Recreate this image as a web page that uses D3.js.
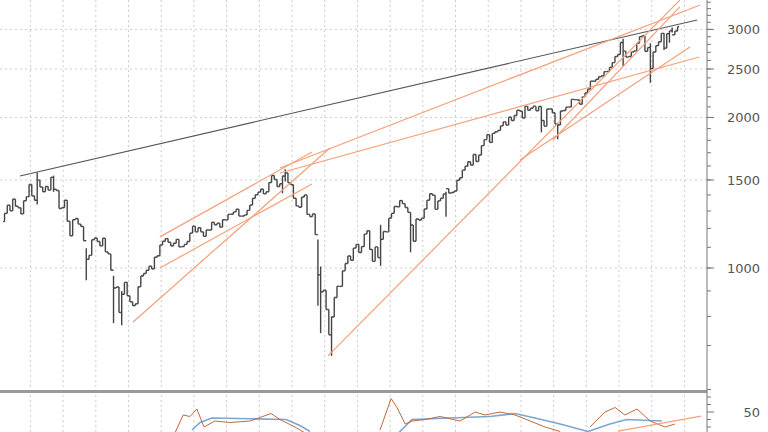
<!DOCTYPE html>
<html><head><meta charset="utf-8">
<script src="https://cdn.jsdelivr.net/npm/d3@7"></script>
<style>body{margin:0;background:#fff}svg{display:block}</style>
</head><body><svg id="chart" width="768" height="432"></svg>
<script>
// monthly closes, Mar 1999 .. Oct 2019
const closes = [
  1286,1335,1302,1373,1329,1320,1283,1363,1389,1469,
  1394,1366,1499,1452,1421,1455,1431,1518,1437,1429,1315,1320,
  1366,1240,1160,1249,1256,1224,1211,1134,1041,1060,1139,1148,
  1130,1107,1147,1077,1067,990,912,916,815,886,936,880,
  856,841,848,917,964,975,990,1008,996,1051,1058,1112,
  1131,1145,1126,1107,1121,1141,1102,1104,1115,1130,1174,1212,
  1181,1204,1181,1157,1191,1191,1234,1220,1229,1207,1249,1248,
  1280,1281,1295,1311,1270,1270,1277,1304,1336,1378,1401,1418,
  1438,1407,1421,1482,1531,1503,1455,1474,1527,1549,1481,1468,
  1379,1331,1323,1386,1400,1280,1267,1283,1166,969,896,903,
  826,735,798,873,919,919,987,1021,1057,1036,1096,1115,
  1074,1104,1169,1187,1089,1031,1102,1049,1141,1183,1181,1258,
  1286,1327,1326,1364,1345,1321,1292,1219,1131,1253,1247,1258,
  1312,1366,1408,1398,1310,1362,1379,1406,1441,1412,1416,1426,
  1498,1515,1569,1598,1631,1606,1686,1633,1682,1757,1806,1848,
  1783,1859,1872,1884,1924,1960,1931,2003,1972,2018,2068,2059,
  1995,2105,2068,2086,2107,2063,2104,1972,1920,2079,2080,2044,
  1940,1932,2060,2065,2097,2099,2174,2171,2168,2126,2199,2239,
  2279,2364,2363,2384,2412,2423,2470,2472,2519,2575,2648,2674,
  2824,2714,2641,2648,2705,2718,2816,2902,2914,2712,2760,2507,
  2704,2784,2834,2946,2752,2942,2980,2926,2977,3038
];
const startYear = 1999 + 2 / 12;
const firstOpen = 1238;
// intramonth extremes [monthIndex, high, low]
const extremes = [
  [12,1553,1340],[18,1530,1420],[30,1095,945],[40,965,776],[43,900,768],
  [102,1527,1410],[103,1576,1490],[115,1140,840],[116,1007,741],[120,800,667],
  [138,1220,1010],[149,1292,1075],[162,1420,1266],[197,2103,1867],[203,1950,1810],
  [227,2873,2533],[237,2815,2346],[242,2950,2729],[244,2978,2822],[245,3027,2958]
];

// trendlines [year0, price0, year1, price1]
const blackLine = [1999.68,1528,2020.39,3133];
const orangeLines = [
  [2003.96,1154,2008.61,1706],
  [2003.96,1000,2008.61,1472],
  [2003.14,780,2009.16,1738],
  [2007.63,1585,2020.48,3357],
  [2007.63,1549,2020.45,2642],
  [2009.10,667,2019.86,3433],
  [2014.97,1644,2020.17,2768],
  [2015.98,1803,2019.86,3327]
];

// lower indicator panel
const oscA = [[2004.42,36],[2004.67,48],[2004.88,47],[2005.09,52],[2005.31,40],[2005.64,44],[2006.10,43],
  [2006.72,44],[2007.36,49],[2007.63,45],[2008.09,40],[2008.40,36]];
const oscB = [[2010.69,38],[2011.03,59],[2011.21,53],[2011.46,42],[2011.67,44],[2012.07,45],[2012.53,47],
  [2013.14,44],[2013.60,50],[2013.90,48],[2014.36,50],[2014.82,48],[2015.28,44],[2015.74,40],[2016.20,37]];
const oscC = [[2017.11,40],[2017.57,50],[2017.88,53],[2018.18,48],[2018.55,52],[2018.95,44],[2019.41,40],[2019.71,42]];
const avgA = [[2004.94,38],[2005.19,43],[2005.55,46],[2006.72,45.5],[2007.82,45],[2008.24,41],[2008.55,37]];
const avgB = [[2011.21,35],[2011.67,45],[2012.83,46],[2014.05,47],[2014.82,49],[2015.43,46],[2016.20,42],
  [2017.05,37],[2017.72,42],[2018.24,45],[2019.31,44]];
const oscLine = [2017.97,37.3,2020.51,47.3];

const priceTicks = [1000,1500,2000,2500,3000];

const svg = d3.select("#chart");
const W = 707, panelTop = 391;
const x = d3.scaleLinear().domain([1999.07, 2020.69]).range([0, W]);
const y = d3.scaleLog().domain([1000, 3000]).range([268, 29.4]);
const y2 = d3.scaleLinear().domain([30, 70]).range([442, 382]);

// grid
const gridYears = d3.range(2000, 2021);
svg.append("g").selectAll("line").data(gridYears).join("line")
  .attr("x1", d => x(d)).attr("x2", d => x(d))
  .attr("y1", 0).attr("y2", 432)
  .attr("stroke", "#ccc").attr("stroke-dasharray", "2,3");
svg.append("g").selectAll("line").data(priceTicks).join("line")
  .attr("x1", 0).attr("x2", W).attr("y1", d => y(d)).attr("y2", d => y(d))
  .attr("stroke", "#ccc").attr("stroke-dasharray", "2,3");

// bars
const t = i => x(startYear + (i + 0.5) / 12);
const ex = new Map(extremes.map(e => [e[0], e]));
const bars = closes.map((c, i) => {
  const o = i ? closes[i - 1] : firstOpen;
  const e = ex.get(i);
  return {i, o, c, h: e ? e[1] : Math.max(o, c), l: e ? e[2] : Math.min(o, c)};
});
const gb = svg.append("g").attr("stroke", "#444").attr("stroke-width", 1.4);
gb.selectAll(".hl").data(bars).join("line")
  .attr("x1", d => t(d.i)).attr("x2", d => t(d.i))
  .attr("y1", d => y(d.h)).attr("y2", d => y(d.l));
gb.selectAll(".op").data(bars).join("line")
  .attr("x1", d => t(d.i) - 1.5).attr("x2", d => t(d.i))
  .attr("y1", d => y(d.o)).attr("y2", d => y(d.o));
gb.selectAll(".cl").data(bars).join("line")
  .attr("x1", d => t(d.i)).attr("x2", d => t(d.i) + 1.5)
  .attr("y1", d => y(d.c)).attr("y2", d => y(d.c));

// trendlines
const main = svg.append("g");
main.append("line")
  .attr("x1", x(blackLine[0])).attr("y1", y(blackLine[1]))
  .attr("x2", x(blackLine[2])).attr("y2", y(blackLine[3]))
  .attr("stroke", "#555").attr("stroke-width", 1.1);
main.selectAll(".tl").data(orangeLines).join("line")
  .attr("x1", d => x(d[0])).attr("y1", d => y(d[1]))
  .attr("x2", d => x(d[2])).attr("y2", d => y(d[3]))
  .attr("stroke", "#f6a07a").attr("stroke-width", 1.2);

// lower panel
svg.append("rect").attr("x", 0).attr("y", panelTop - 1).attr("width", W).attr("height", 3).attr("fill", "#999");
const ln = d3.line().x(d => x(d[0])).y(d => y2(d[1]));
[avgA, avgB].forEach(s => svg.append("path").attr("d", ln(s)).attr("fill", "none")
  .attr("stroke", "#7ea6cf").attr("stroke-width", 1.6));
[oscA, oscB, oscC].forEach(s => svg.append("path").attr("d", ln(s)).attr("fill", "none")
  .attr("stroke", "#c0683f").attr("stroke-width", 1));
svg.append("line").attr("x1", x(oscLine[0])).attr("y1", y2(oscLine[1]))
  .attr("x2", x(oscLine[2])).attr("y2", y2(oscLine[3]))
  .attr("stroke", "#f6a07a").attr("stroke-width", 1.2);

// right axis
const ax = svg.append("g").attr("transform", `translate(${W},0)`);
ax.append("line").attr("y1", 0).attr("y2", 432).attr("stroke", "#777");
const minor = d3.range(700, 3600, 100);
ax.selectAll(".mn").data(minor).join("line").attr("x1", 0).attr("x2", 4)
  .attr("y1", d => y(d)).attr("y2", d => y(d)).attr("stroke", "#777");
ax.selectAll(".mj").data(priceTicks).join("line").attr("x1", 0).attr("x2", 7)
  .attr("y1", d => y(d)).attr("y2", d => y(d)).attr("stroke", "#777");
ax.selectAll("text").data(priceTicks).join("text")
  .attr("x", 53).attr("y", d => y(d) + 5).attr("text-anchor", "end")
  .attr("font-family", "DejaVu Sans, sans-serif").attr("font-size", 13).attr("fill", "#555")
  .text(d => d);
const lowTicks = d3.range(35, 70, 5);
ax.selectAll(".lt").data(lowTicks).join("line").attr("x1", 0).attr("x2", d => d === 50 ? 7 : 4)
  .attr("y1", d => y2(d)).attr("y2", d => y2(d)).attr("stroke", "#777");
ax.append("text").attr("x", 53).attr("y", y2(50) + 5).attr("text-anchor", "end")
  .attr("font-family", "DejaVu Sans, sans-serif").attr("font-size", 13).attr("fill", "#555").text("50");
</script></body></html>
